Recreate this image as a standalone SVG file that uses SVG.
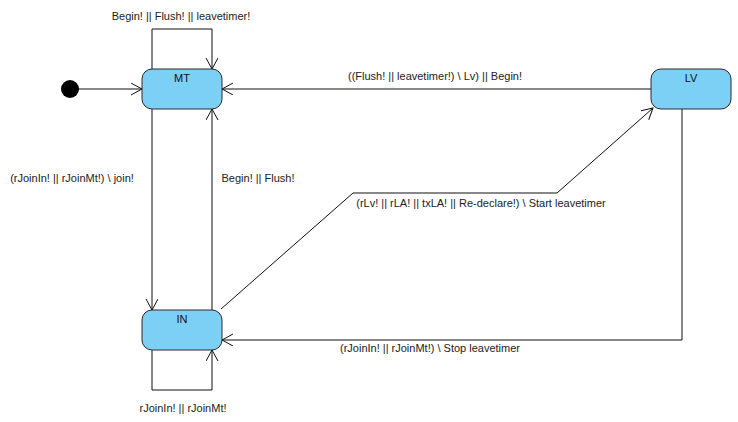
<svg xmlns="http://www.w3.org/2000/svg" width="738" height="422" viewBox="0 0 738 422">
<style>
.state{fill:#7ccff5;stroke:#2a2a2a;stroke-width:1}
.lbl{font-family:"Liberation Sans",Arial,sans-serif;font-size:11px;fill:#222}
.name{font-family:"Liberation Sans",Arial,sans-serif;font-size:11px;fill:#111;text-anchor:middle}
.edge{fill:none;stroke:#111;stroke-width:1;marker-end:url(#arr)}
</style>
<defs>
<marker id="arr" markerUnits="userSpaceOnUse" markerWidth="14" markerHeight="14" refX="11" refY="6" orient="auto">
<path d="M0,0 L11,6 L0,12" fill="none" stroke="#111" stroke-width="1"/>
</marker>
</defs>
<rect width="738" height="422" fill="#fff"/>
<g id="connectors">
<path class="edge" d="M70,89 L142,89"/>
<path class="edge" d="M152,69 L152,29 L212,29 L212,69"/>
<path class="edge" d="M651,89 L222,89"/>
<path class="edge" d="M152,109 L152,310"/>
<path class="edge" d="M212,310 L212,109"/>
<path class="edge" d="M221,309 L353,193 L557,193 L653,108"/>
<path class="edge" d="M682,109 L682,340 L222,340"/>
<path class="edge" d="M152,350 L152,390 L212,390 L212,350"/>
</g>
<g id="labels">
<text class="lbl" x="181" y="20" text-anchor="middle">Begin! || Flush! || leavetimer!</text>
<text class="lbl" x="435" y="80" text-anchor="middle">((Flush! || leavetimer!) \ Lv) || Begin!</text>
<text class="lbl" x="72" y="182" text-anchor="middle">(rJoinIn! || rJoinMt!) \ join!</text>
<text class="lbl" x="258" y="182" text-anchor="middle">Begin! || Flush!</text>
<text class="lbl" x="481" y="207" text-anchor="middle">(rLv! || rLA! || txLA! || Re-declare!) \ Start leavetimer</text>
<text class="lbl" x="430" y="352" text-anchor="middle">(rJoinIn! || rJoinMt!) \ Stop leavetimer</text>
<text class="lbl" x="183" y="412" text-anchor="middle">rJoinIn! || rJoinMt!</text>
</g>
<g id="initial"><circle cx="70" cy="89" r="9" fill="#000"/></g>
<g id="MT"><rect class="state" x="142" y="69" width="80" height="40" rx="10"/><text class="name" x="182" y="82">MT</text></g>
<g id="IN"><rect class="state" x="142" y="310" width="80" height="40" rx="10"/><text class="name" x="182" y="323">IN</text></g>
<g id="LV"><rect class="state" x="651" y="69" width="80" height="40" rx="10"/><text class="name" x="691" y="82">LV</text></g>
</svg>
